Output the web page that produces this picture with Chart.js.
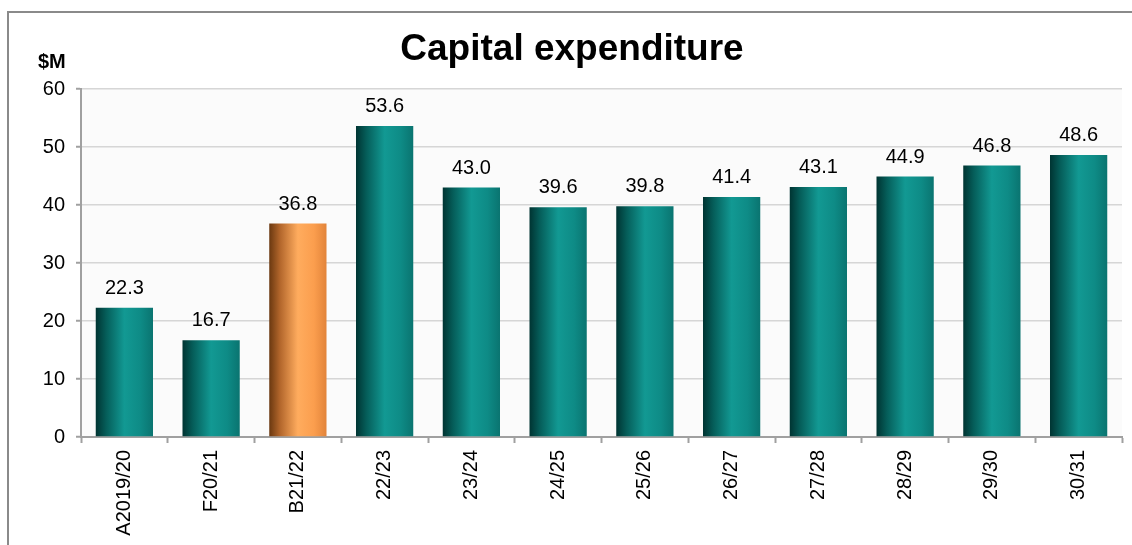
<!DOCTYPE html>
<html>
<head>
<meta charset="utf-8">
<script src="https://cdn.jsdelivr.net/npm/chart.js@4.4.0/dist/chart.umd.min.js"></script>
<style>
  html, body { margin: 0; padding: 0; background: #ffffff; }
  #wrap { position: relative; width: 1132px; height: 545px; overflow: hidden; }
  #frame { position: absolute; left: 7px; top: 11px; width: 1140px; height: 560px;
           border-top: 2px solid #8a8a8a; border-left: 2px solid #8a8a8a; box-sizing: border-box; }
  canvas { position: absolute; left: 0; top: 0; }
</style>
</head>
<body>
<div id="wrap">
  <div id="frame"></div>
  <canvas id="c" width="1132" height="545"></canvas>
</div>
<script>
const categories = ["A2019/20", "F20/21", "B21/22", "22/23", "23/24", "24/25", "25/26", "26/27", "27/28", "28/29", "29/30", "30/31"];
const capex = [22.3, 16.7, 36.8, 53.6, 43.0, 39.6, 39.8, 41.4, 43.1, 44.9, 46.8, 48.6];
const budgetIndex = 2;
const yTicks = [0, 10, 20, 30, 40, 50, 60];
const chartTitle = "Capital expenditure";
const unitLabel = "$M";

const FONT = "'Liberation Sans', Arial, sans-serif";

function barGradient(ctx, x0, x1, isBudget) {
  const g = ctx.createLinearGradient(x0, 0, x1, 0);
  if (isBudget) {
    g.addColorStop(0, '#6a3810');
    g.addColorStop(0.18, '#b0642a');
    g.addColorStop(0.5, '#ffac5e');
    g.addColorStop(0.78, '#fb9e4e');
    g.addColorStop(1, '#e2843a');
  } else {
    g.addColorStop(0, '#003432');
    g.addColorStop(0.18, '#055d59');
    g.addColorStop(0.5, '#129993');
    g.addColorStop(0.78, '#0e8b86');
    g.addColorStop(1, '#0a7470');
  }
  return g;
}

const bgPlugin = {
  id: 'plotBg',
  beforeDraw(chart) {
    const { ctx, chartArea: a } = chart;
    ctx.save();
    ctx.fillStyle = '#fbfbfb';
    ctx.fillRect(a.left, a.top, a.right - a.left, a.bottom - a.top);
    ctx.restore();
  },
  beforeDatasetsDraw(chart) {
    const meta = chart.getDatasetMeta(0);
    meta.data.forEach((bar, i) => {
      const x0 = bar.x - bar.width / 2, x1 = bar.x + bar.width / 2;
      bar.options.backgroundColor = barGradient(chart.ctx, x0, x1, i === budgetIndex);
    });
  }
};

const textPlugin = {
  id: 'texts',
  afterDatasetsDraw(chart) {
    const { ctx } = chart;
    const meta = chart.getDatasetMeta(0);
    ctx.save();
    ctx.fillStyle = '#000';
    ctx.textAlign = 'center';
    ctx.textBaseline = 'alphabetic';
    ctx.font = '20px ' + FONT;
    meta.data.forEach((bar, i) => {
      ctx.fillText(capex[i].toFixed(1), bar.x, bar.y - 14);
    });
    ctx.font = 'bold 37px ' + FONT;
    ctx.fillText(chartTitle, 572, 60);
    ctx.font = 'bold 20px ' + FONT;
    ctx.textAlign = 'left';
    ctx.fillText(unitLabel, 38, 68);
    ctx.restore();
  }
};

new Chart(document.getElementById('c'), {
  type: 'bar',
  data: {
    labels: categories,
    datasets: [{
      data: capex,
      backgroundColor: categories.map((_, i) => i === budgetIndex ? '#fb9d4c' : '#0d8a85'),
      borderWidth: 0,
      categoryPercentage: 0.66,
      barPercentage: 1.0
    }]
  },
  options: {
    responsive: false,
    animation: false,
    events: [],
    layout: { padding: { left: 0, top: 89, right: 10, bottom: 0 } },
    plugins: { legend: { display: false }, title: { display: false }, tooltip: { enabled: false } },
    scales: {
      x: {
        afterFit(s) { s.height = 108; },
        border: { display: true, color: '#a0a0a0', width: 2 },
        grid: { display: true, drawOnChartArea: false, drawTicks: true, tickLength: 6, tickColor: '#a0a0a0', tickWidth: 2, offset: true },
        ticks: { minRotation: 90, maxRotation: 90, autoSkip: false, padding: 7, color: '#000', font: { family: FONT, size: 20 } }
      },
      y: {
        min: 0, max: 60,
        afterFit(s) { s.width = 81; },
        afterBuildTicks(s) { s.ticks = yTicks.map(v => ({ value: v })); },
        border: { display: true, color: '#a0a0a0', width: 2 },
        grid: { color: '#d6d6d6', lineWidth: 1.5, drawTicks: true, tickLength: 5, tickColor: '#a0a0a0', tickWidth: 2 },
        ticks: { padding: 11, color: '#000', font: { family: FONT, size: 20 } }
      }
    }
  },
  plugins: [bgPlugin, textPlugin]
});
</script>
</body>
</html>
